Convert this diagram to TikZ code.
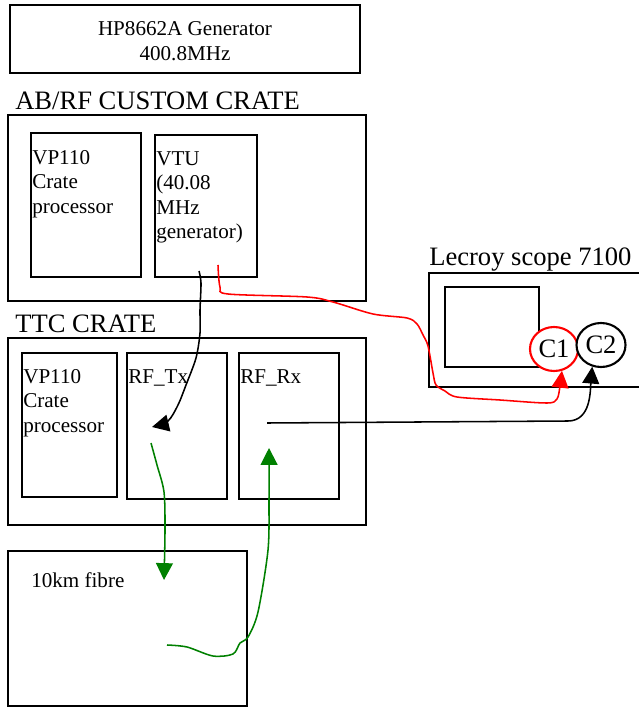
\documentclass[tikz,border=0pt]{standalone}
\usepackage{fontspec}
\setmainfont{Liberation Serif}
\usetikzlibrary{arrows.meta, shapes.geometric, positioning}
\definecolor{wirered}{RGB}{255,0,0}
\definecolor{wiregreen}{RGB}{0,128,0}

\tikzset{
    box/.style={draw, line width=1.5pt, inner sep=0pt},
    txt/.style={inner sep=0pt, align=left, font=\fontsize{15}{17.4}\selectfont},
    biglbl/.style={inner sep=0pt, font=\fontsize{18.9}{22}\selectfont},
    wire/.style={line width=1.1pt, -{Triangle[length=12pt,width=12pt]}},
}

\begin{document}
\begin{tikzpicture}[x=0.025cm, y=-0.025cm]
        \useasboundingbox (0,0) rectangle (638,707);

        % generator
        \node[box, minimum width=8.75cm, minimum height=1.7cm] (hp) at (185,39) {};
        \node[txt, align=center, anchor=north] (hplbl) at (185,21.5) {HP8662A Generator\\400.8MHz};

        % AB/RF custom crate
        \node[biglbl, anchor=base west] (abrflbl) at (15,110) {AB/RF CUSTOM CRATE};
        \node[box, minimum width=8.95cm, minimum height=4.65cm] (abrf) at (187,208) {};
        \node[box, minimum width=2.75cm, minimum height=3.6cm] (vpa) at (86,205) {};
        \node[txt, anchor=north west] (vpalbl) at (32,150) {VP110\\Crate\\processor};
        \node[box, minimum width=2.55cm, minimum height=3.55cm] (vtu) at (206,206) {};
        \node[txt, anchor=north west] (vtulbl) at (156,151) {VTU\\(40.08\\MHz\\generator)};

        % TTC crate
        \node[biglbl, anchor=base west] (ttclbl) at (15,332) {TTC CRATE};
        \node[box, minimum width=8.95cm, minimum height=4.675cm] (ttc) at (187,431.5) {};
        \node[box, minimum width=2.375cm, minimum height=3.6cm] (vpb) at (69.5,425) {};
        \node[txt, anchor=north west] (vpblbl) at (23,369) {VP110\\Crate\\processor};
        \node[box, minimum width=2.5cm, minimum height=3.65cm] (rftx) at (177,426) {};
        \node[txt, anchor=north west] (rftxlbl) at (128,369) {RF\_Tx};
        \node[box, minimum width=2.5cm, minimum height=3.65cm] (rfrx) at (289,426) {};
        \node[txt, anchor=north west] (rfrxlbl) at (240,369) {RF\_Rx};

        % fibre
        \node[box, minimum width=5.975cm, minimum height=3.875cm] (fibre) at (127.5,628.5) {};
        \node[txt, anchor=north west] (fibrelbl) at (31,572.5) {10km fibre};

        % scope
        \node[biglbl, anchor=base west] (scopelbl) at (429,266) {Lecroy scope 7100};
        \node[box, minimum width=5.525cm, minimum height=2.85cm] (scope) at (539.5,330) {};
        \node[box, minimum width=2.35cm, minimum height=2cm] (screen) at (492,327) {};
        \node[box, ellipse, draw=wirered, fill=white, minimum width=1.2cm, minimum height=1.1cm, font=\fontsize{18.9}{22}\selectfont] (c1) at (554,349) {C1};
        \node[box, ellipse, fill=white, minimum width=1.225cm, minimum height=1.1cm, font=\fontsize{18.9}{22}\selectfont] (c2) at (601,345) {C2};

        \coordinate (vtutx) at (199,271);
        \coordinate (vturf) at (218,265);
        \coordinate (txin) at (152,427);
        \coordinate (txout) at (151,443);
        \coordinate (rxout) at (267,423);
        \coordinate (rxin) at (269,448);
        \coordinate (fibrein) at (164,580);
        \coordinate (fibreout) at (167,645);

        \draw[wire] plot[smooth] coordinates {(vtutx) (201,283) (200,310) (200,333) (196,358) (186,385) (178,405) (168,421) (txin)};
        \draw[wire, wirered] plot[smooth, tension=0.5] coordinates {(vturf) (220,287) (228,294) (307,297) (333,302) (373,314) (407,318) (417,324) (423,335) (428,346) (433,373) (436,385) (445,391) (457,397) (500,400) (547,403) (557,399) (560,386) (c1.-70)};
        \draw[wire] (rxout) -- (568,421) to[out=0, in=-95] (c2.-112);
        \draw[wire, wiregreen] plot[smooth] coordinates {(txout) (157,465) (164,492) (165,530) (fibrein)};
        \draw[wire, wiregreen] plot[smooth, tension=0.5] coordinates {(fibreout) (187,647) (213,656) (233,654) (240,643) (248,637) (258,612) (268,550) (269,500) (rxin)};
    \end{tikzpicture}
\end{document}
